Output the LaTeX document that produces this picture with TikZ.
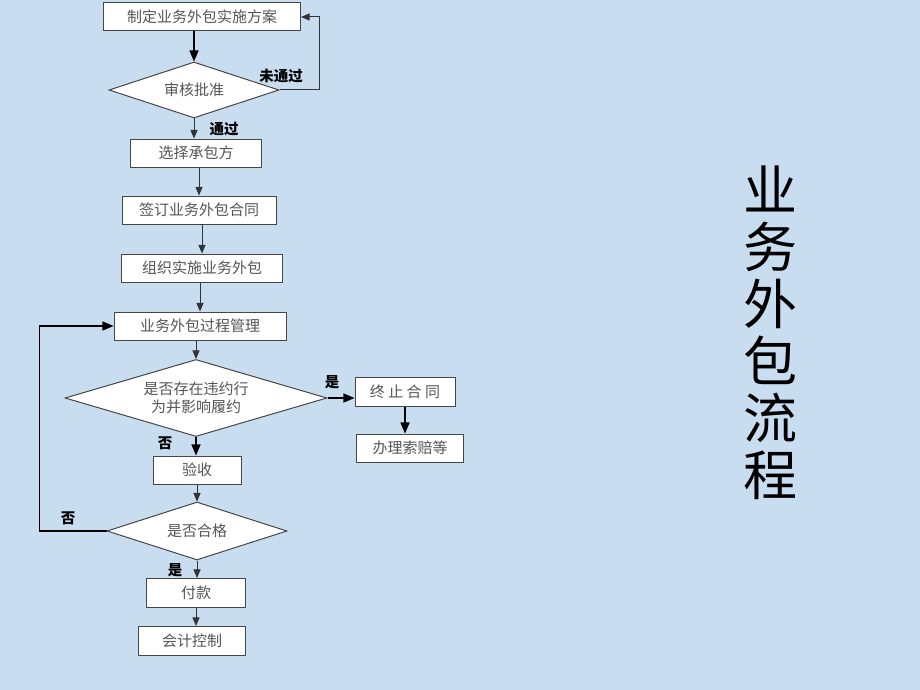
\documentclass[tikz,border=0pt]{standalone}
\usepackage{fontspec}
\setmainfont{Noto Sans CJK SC}
\usepackage{tikz}
\usetikzlibrary{positioning}
\usetikzlibrary{arrows,shapes}
\usetikzlibrary{calc}

\definecolor{bgblue}{RGB}{201,221,241}
\definecolor{boxline}{RGB}{70,70,70}
\definecolor{boxtext}{RGB}{85,85,85}

\begin{document}
\begin{tikzpicture}[x=1pt,y=-1pt,
  box/.style={draw=boxline, fill=white, line width=1pt, text=boxtext,
    font=\fontsize{15}{18}\selectfont, inner sep=0pt},
  decision/.style={diamond, draw=boxline, fill=white, line width=1pt, text=boxtext,
    font=\fontsize{15}{18}\selectfont, inner sep=0pt, aspect=3, align=center},
  arr/.style={-triangle 45, line width=1pt, draw=black!80},
  thickarr/.style={-triangle 45, line width=1.6pt},
  lbl/.style={font=\fontsize{14.5}{17}\selectfont\bfseries, inner sep=0pt}]

\fill[bgblue] (0,0) rectangle (920,690);
\useasboundingbox (0,0) rectangle (920,690);

\node[box, minimum width=197pt, minimum height=28pt] (plan) at (202,17) {制定业务外包实施方案};
\node[decision, minimum width=170pt, minimum height=56pt] (audit) at (194,90) {审核批准};
\node[box, minimum width=131pt, minimum height=28pt] (choose) at (196,153) {选择承包方};
\node[box, minimum width=154pt, minimum height=28pt] (sign) at (199,210) {签订业务外包合同};
\node[box, minimum width=161pt, minimum height=28pt] (organize) at (202,268) {组织实施业务外包};
\node[box, minimum width=172pt, minimum height=28pt] (manage) at (200,326) {业务外包过程管理};
\node[decision, minimum width=262pt, minimum height=77pt, aspect=3.4] (breach) at (196,398) {是否存在违约行\\为并影响履约};
\node[box, minimum width=100pt, minimum height=29pt] (stop) at (405,392) {终 止 合 同};
\node[box, minimum width=107pt, minimum height=28pt] (claim) at (410,448) {办理索赔等};
\node[box, minimum width=88pt, minimum height=28pt] (accept) at (197,470) {验收};
\node[decision, minimum width=180pt, minimum height=58pt] (qualify) at (197,531) {是否合格};
\node[box, minimum width=99pt, minimum height=29pt] (pay) at (196,593) {付款};
\node[box, minimum width=107pt, minimum height=29pt] (account) at (192,641) {会计控制};

\draw [thickarr] (audit.north |- plan.south) -- (audit.north);
\draw [arr] (audit.east) -- ++(40,0) |- (plan.east);
\draw [arr] (audit.south) -- (audit.south |- choose.north);
\draw [arr] (choose.south -| sign.north) -- (sign.north);
\draw [arr] (sign.south) -- (sign.south -| organize.north) -- (organize.north);
\draw [arr] (organize.south -| manage.north) -- (manage.north);
\draw [arr] (manage.south -| breach.north) -- (breach.north);
\draw [thickarr] (breach.east) -- (breach.east -| stop.west);
\draw [thickarr] (stop.south) -- (stop.south |- claim.north);
\draw [thickarr] (breach.south) -- (breach.south |- accept.north);
\draw [arr] (accept.south) -- (qualify.north);
\draw [thickarr] (qualify.west) -- ++(-67,0) |- (manage.west);
\draw [arr] (qualify.south) -- (qualify.south |- pay.north);
\draw [arr] (pay.south) -- (pay.south |- account.north);

\node[lbl] (nopass) at (281,76) {未通过};
\node[lbl] (pass) at (224,129) {通过};
\node[lbl] (yes1) at (332,382) {是};
\node[lbl] (no1) at (165,443) {否};
\node[lbl] (no2) at (68,518) {否};
\node[lbl] (yes2) at (175,570) {是};

\node[align=center, font=\fontsize{54}{57}\selectfont] (title) at (770,333) {业\\务\\外\\包\\流\\程};
\end{tikzpicture}
\end{document}
